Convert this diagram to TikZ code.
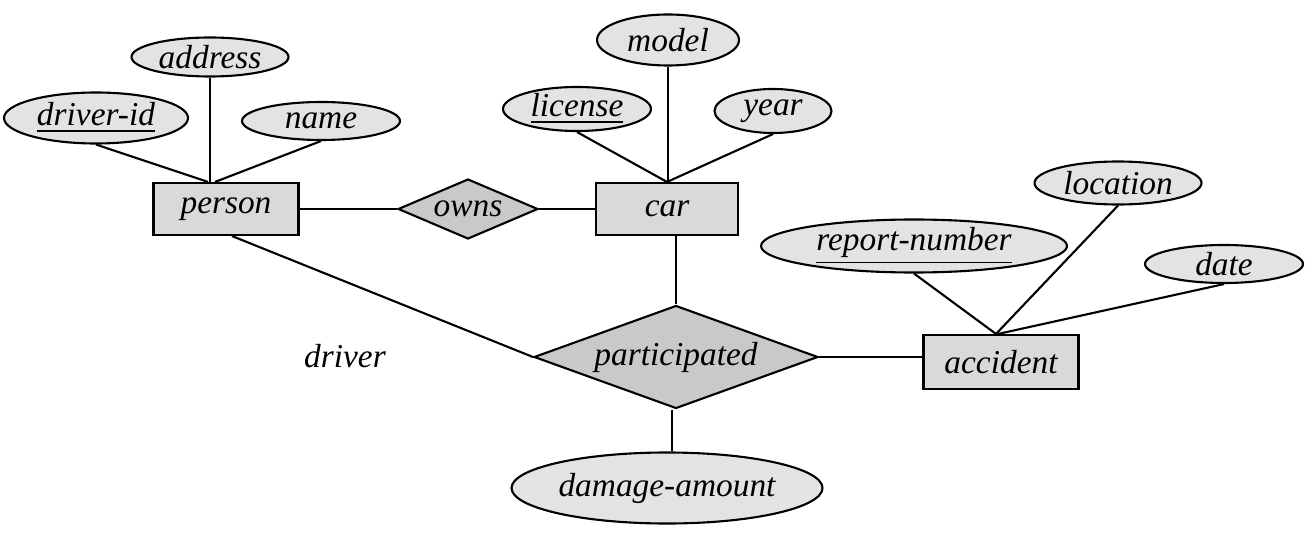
\documentclass[tikz,border=0pt]{standalone}
\usepackage{fontspec}
\setmainfont{Liberation Serif}
\usepackage{tikz}
\usetikzlibrary{shapes.geometric}

\definecolor{entfill}{gray}{0.85}
\definecolor{relfill}{gray}{0.79}
\definecolor{attfill}{gray}{0.89}

\begin{document}
\begin{tikzpicture}[
    line width=0.6pt,
    every node/.style={font=\fontsize{9.5}{11}\selectfont\itshape, inner sep=0pt},
    entity/.style={draw, fill=entfill, rectangle, minimum height=0.52cm},
    relation/.style={draw, fill=relfill, diamond},
    attrib/.style={draw, fill=attfill, ellipse}
  ]
          \useasboundingbox (0,0) rectangle (13.06,5.34);
          % person
          \node[entity, minimum width=1.45cm] (person) at (2.26,3.25) {person};
          \node[attrib, minimum width=1.57cm, minimum height=0.39cm] (address) at (2.10,4.77) {address};
          \node[attrib, minimum width=1.84cm, minimum height=0.51cm] (driverid) at (0.96,4.16) {\underline{driver-id}};
          \node[attrib, minimum width=1.58cm, minimum height=0.38cm] (name) at (3.21,4.13) {name};
          % owns
          \node[relation, aspect=2.33, minimum width=1.40cm, minimum height=0.60cm] (owns) at (4.68,3.25) {owns};
          % car
          \node[entity, minimum width=1.42cm] (car) at (6.67,3.25) {car};
          \node[attrib, minimum width=1.42cm, minimum height=0.51cm] (model) at (6.68,4.94) {model};
          \node[attrib, minimum width=1.48cm, minimum height=0.44cm] (license) at (5.77,4.25) {\underline{license}};
          \node[attrib, minimum width=1.17cm, minimum height=0.44cm] (year) at (7.73,4.23) {year};
          % participated
          \node[relation, aspect=2.76, minimum width=2.84cm, minimum height=1.03cm] (participated) at (6.76,1.77) {participated};
          \node[attrib, minimum width=3.11cm, minimum height=0.71cm] (damage) at (6.67,0.46) {damage-amount};
          \node (driver) at (3.45,1.78) {driver};
          % accident
          \node[entity, minimum width=1.55cm, minimum height=0.54cm] (accident) at (10.01,1.72) {accident};
          \node[attrib, minimum width=3.06cm, minimum height=0.53cm] (report) at (9.14,2.88) {\underline{report-number}};
          \node[attrib, minimum width=1.67cm, minimum height=0.43cm] (location) at (11.18,3.51) {location};
          \node[attrib, minimum width=1.58cm, minimum height=0.38cm] (date) at (12.24,2.70) {date};
          % attributes of person
          \draw (driverid.south) -- ([xshift=-0.18cm]person.north);
          \draw (address.south) -- (address.south |- person.north);
          \draw (name.south) -- ([xshift=-0.11cm]person.north);
          % attributes of car
          \draw (license.south) -- (car.north);
          \draw (model.south) -- (model.south |- car.north);
          \draw (year.south) -- (car.north);
          % attributes of accident
          \draw (report.south) -- ([xshift=-0.05cm]accident.north);
          \draw (location.south) -- ([xshift=-0.05cm]accident.north);
          \draw (date.south) -- ([xshift=-0.03cm]accident.north);
          % line between person and owns and car
          \draw (person.east) -- (owns.west);
          \draw (owns.east) -- (car.west);
          % lines of participated
          \draw ([xshift=0.06cm]person.south) -- (participated.west);
          \draw (participated.north) -- (participated.north |- car.south);
          \draw (participated.east) -- (participated.east -| accident.west);
          \draw ([xshift=-0.04cm]participated.south) -- ([xshift=-0.04cm]participated.south |- damage.north);
\end{tikzpicture}
\end{document}
